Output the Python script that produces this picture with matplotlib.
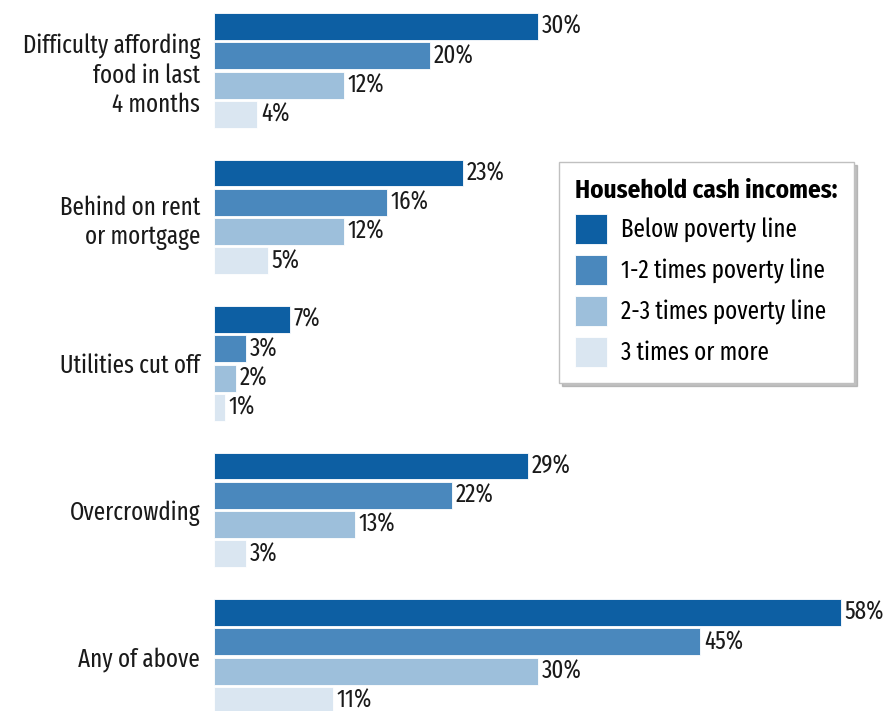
import matplotlib.pyplot as plt
import numpy as np

# Chart data
categories = ["Difficulty affording\nfood in last\n4 months", "Behind on rent\nor mortgage",
              "Utilities cut off", "Overcrowding", "Any of above"]
series_names = ["Below poverty line", "1-2 times poverty line",
                "2-3 times poverty line", "3 times or more"]
below_poverty = [30, 23, 7, 29, 58]
one_two_times = [20, 16, 3, 22, 45]
two_three_times = [12, 12, 2, 13, 30]
three_plus = [4, 5, 1, 3, 11]
series_values = [below_poverty, one_two_times, two_three_times, three_plus]
colors = ["#0d5fa3", "#4a88bd", "#9dbfdb", "#dae6f1"]

family = ["Fira Sans Extra Condensed", "DejaVu Sans"]
plt.rcParams["font.family"] = family
FS = 18

W, H = 889, 711
fig = plt.figure(figsize=(W / 100, H / 100), dpi=100)
fig.patch.set_facecolor("white")

# axes starts at the bar baseline and runs to the right edge
x0 = 214 / W
ax = fig.add_axes([x0, 0, 1 - x0, 1])
px_per_pct = (841 - 214) / 58
ax.set_xlim(0, (W - 214) / px_per_pct)
bar_pitch = 29.3
top_offset = 26.5 / bar_pitch
ax.set_ylim(-top_offset + H / bar_pitch, -top_offset)

n_groups = len(categories)
for j, (vals, col, name) in enumerate(zip(series_values, colors, series_names)):
    ys = np.arange(n_groups) * 5 + j
    ax.barh(ys, vals, height=0.92, color=col, edgecolor="white", linewidth=0.6, label=name)
    for y, v in zip(ys, vals):
        ax.text(v + 0.35, y, f"{v}%", va="center", ha="left", fontsize=FS, color="#1a1a1a")

ax.set_yticks(np.arange(n_groups) * 5 + 1.5)
ax.set_yticklabels(categories, fontsize=FS, color="#1a1a1a", linespacing=1.22)
ax.tick_params(axis="y", length=0, pad=10)
ax.set_xticks([])
for spine in ax.spines.values():
    spine.set_visible(False)

leg = ax.legend(loc="upper left", bbox_to_anchor=(559 / W, 1 - 162 / H),
                bbox_transform=fig.transFigure, borderaxespad=0,
                title="Household cash incomes:", alignment="left",
                title_fontproperties={"weight": "bold", "size": FS,
                                      "family": ["Fira Sans Condensed", "DejaVu Sans"]},
                fontsize=FS, frameon=True, fancybox=False,
                shadow={"color": "#999999", "alpha": 0.6},
                handlelength=1.28, handleheight=1.5, handletextpad=0.55,
                labelspacing=0.42, borderpad=0.65)
leg.get_frame().set_edgecolor("#c0c0c0")
leg.get_frame().set_linewidth(1.0)

fig.savefig("out.png", dpi=100)
